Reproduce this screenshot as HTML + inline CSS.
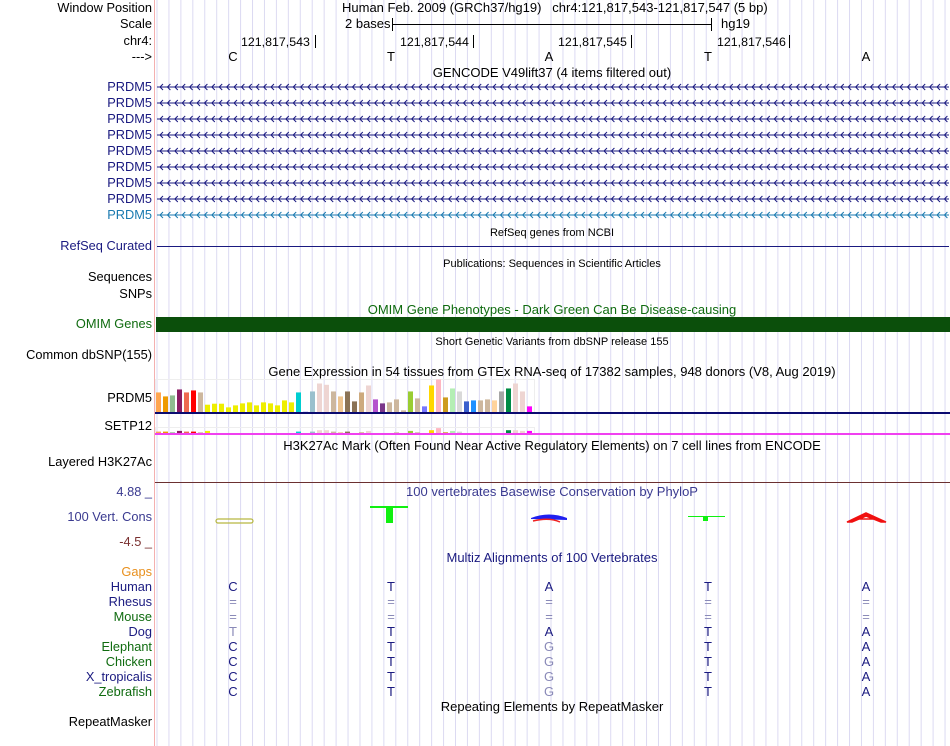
<!DOCTYPE html>
<html><head><meta charset="utf-8">
<style>
body{margin:0;width:950px;height:746px;background:#fff;overflow:hidden;font-family:"Liberation Sans",sans-serif;}
#wrap{position:relative;width:950px;height:746px;}
.t{position:absolute;font-size:13px;line-height:14px;white-space:nowrap;color:#000;}
.k{font-size:12.4px;}
.l{position:absolute;right:798px;font-size:12.8px;line-height:14px;white-space:nowrap;text-align:right;}
.c{position:absolute;font-size:13px;line-height:14px;white-space:nowrap;transform:translateX(-50%);}
.s{font-size:11px;}
.nv{color:#1a1a80}.gr{color:#0f6b0f}
</style></head><body>
<div id="wrap">
<svg id="bg" width="950" height="746" style="position:absolute;left:0;top:0"></svg>

<div class="l" style="top:1px">Window Position</div>
<div class="l" style="top:17px">Scale</div>
<div class="l" style="top:34px">chr4:</div>
<div class="l" style="top:50px">---&gt;</div>
<div class="t" style="left:342px;top:1px">Human Feb. 2009 (GRCh37/hg19)&nbsp;&nbsp;&nbsp;chr4:121,817,543-121,817,547 (5 bp)</div>
<div class="t" style="left:345px;top:17px">2 bases</div>
<div class="t" style="left:721px;top:17px">hg19</div>
<div class="t k" style="left:241px;top:35px">121,817,543</div>
<div class="t k" style="left:400px;top:35px">121,817,544</div>
<div class="t k" style="left:558px;top:35px">121,817,545</div>
<div class="t k" style="left:717px;top:35px">121,817,546</div>
<div class="c" style="left:233px;top:50px">C</div><div class="c" style="left:391px;top:50px">T</div><div class="c" style="left:549px;top:50px">A</div><div class="c" style="left:708px;top:50px">T</div><div class="c" style="left:866px;top:50px">A</div>
<div class="c" style="left:552px;top:66px">GENCODE V49lift37 (4 items filtered out)</div>
<div id="prdm"></div>
<div class="c s" style="left:552px;top:226px">RefSeq genes from NCBI</div>
<div class="l nv" style="top:239px">RefSeq Curated</div>
<div class="c s" style="left:552px;top:257px">Publications: Sequences in Scientific Articles</div>
<div class="l" style="top:270px">Sequences</div>
<div class="l" style="top:287px">SNPs</div>
<div class="c gr" style="left:552px;top:303px">OMIM Gene Phenotypes - Dark Green Can Be Disease-causing</div>
<div class="l gr" style="top:317px">OMIM Genes</div>
<div class="c s" style="left:552px;top:335px">Short Genetic Variants from dbSNP release 155</div>
<div class="l" style="top:348px">Common dbSNP(155)</div>
<div class="c" style="left:552px;top:365px">Gene Expression in 54 tissues from GTEx RNA-seq of 17382 samples, 948 donors (V8, Aug 2019)</div>
<div class="l" style="top:391px">PRDM5</div>
<div class="l" style="top:419px">SETP12</div>
<div class="c" style="left:552px;top:439px">H3K27Ac Mark (Often Found Near Active Regulatory Elements) on 7 cell lines from ENCODE</div>
<div class="l" style="top:455px">Layered H3K27Ac</div>
<div class="l nv" style="top:485px;color:#3a3a90">4.88 _</div>
<div class="c" style="left:552px;top:485px;color:#3a3a90">100 vertebrates Basewise Conservation by PhyloP</div>
<div class="l" style="top:510px;color:#3a3a90">100 Vert. Cons</div>
<div class="l" style="top:535px;color:#7a3030">-4.5 _</div>
<div class="c nv" style="left:552px;top:551px">Multiz Alignments of 100 Vertebrates</div>
<div class="l" style="top:565px;color:#e8901e">Gaps</div>
<div id="species"></div>
<div class="c" style="left:552px;top:700px">Repeating Elements by RepeatMasker</div>
<div class="l" style="top:715px">RepeatMasker</div>
</div>
<script>
const gtexPRDM5=[59,47,50,68,59,65,59,22,25,25,14,20,26,29,20,29,26,20,35,29,59,2,62,86,82,62,47,62,32,59,80,38,26,29,38,5,62,41,17,80,98,44,71,62,32,35,35,38,35,62,71,86,62,17];
const gtexSETP12=[2,2,1,3,2,2,1,3,0,0,0,0,0,0,0,0,0,0,0,0,2,0,2,4,4,2,1,2,0,1,3,0,0,0,1,0,3,1,0,4,7,1,3,2,0,0,0,0,0,0,4,4,3,3];
const tissueColors=["#FFA54F","#EE9A00","#8FBC8F","#8B1C62","#EE6A50","#FF0000","#CDB79E","#EEEE00","#EEEE00","#EEEE00","#EEEE00","#EEEE00","#EEEE00","#EEEE00","#EEEE00","#EEEE00","#EEEE00","#EEEE00","#EEEE00","#EEEE00","#00CED1","#CCCCFF","#9AC0CD","#EED5D2","#EED5D2","#CDB79E","#EEC591","#8B7355","#8B7355","#CDAA7D","#EED5D2","#B452CD","#7A378B","#CDB79E","#CDB79E","#CDB79E","#9ACD32","#CDB79E","#7777FF","#FFD700","#FFB6C1","#CD9B1D","#B4EEB4","#D9D9D9","#3A5FCD","#1E90FF","#CDB79E","#CDB79E","#FFD39B","#A6A6A6","#008B45","#EED5D2","#EED5D2","#FF00FF"];
const species=["Human","Rhesus","Mouse","Dog","Elephant","Chicken","X_tropicalis","Zebrafish"];
const speciesGreen=[false,false,true,false,true,true,false,true];
const alignRows=["CTATA","=====","=====","TTATA","CTGTA","CTGTA","CTGTA","CTGTA"];
const alignFaint=["00000","11111","11111","10000","00100","00100","00100","00100"];
const baseX=[233,391,549,708,866];
const NS="http://www.w3.org/2000/svg";
const svg=document.getElementById('bg');
function mk(tag,a){const e=document.createElementNS(NS,tag);for(const k in a)e.setAttribute(k,a[k]);svg.appendChild(e);return e;}
for(let x=157;x<950;x+=11.94){const g=mk('line',{x1:x,y1:0,x2:x,y2:746,stroke:'#dcdaf2','stroke-width':1});

}
mk('line',{x1:154.5,y1:0,x2:154.5,y2:746,stroke:'#f4b0b0','stroke-width':1});
mk('line',{x1:392,y1:24.5,x2:711,y2:24.5,stroke:'#000'});
mk('line',{x1:392.5,y1:18,x2:392.5,y2:31,stroke:'#000'});
mk('line',{x1:711.5,y1:18,x2:711.5,y2:31,stroke:'#000'});
[315,473,631,789].forEach(x=>mk('line',{x1:x+.5,y1:35,x2:x+.5,y2:48,stroke:'#000'}));
const prdm=document.getElementById('prdm');
for(let i=0;i<9;i++){const y=87+i*16;
const col=i==8?'#1a7ab0':'#1a1a80';
mk('line',{x1:157,y1:y,x2:949,y2:y,stroke:col,'stroke-width':1});
let d='';for(let x=160;x<949;x+=7.4){d+=`M${x+3},${y-3}L${x},${y}L${x+3},${y+3}`;}
const p=mk('path',{d:d,stroke:col,fill:'none','stroke-width':1});


const lb=document.createElement('div');lb.className='l';lb.style.top=(y-7)+'px';lb.style.color=col;lb.textContent='PRDM5';


prdm.appendChild(lb);}
mk('line',{x1:157,y1:246.5,x2:949,y2:246.5,stroke:'#1a1a80'});
const om=mk('rect',{x:156,y:317,width:794,height:15,fill:'#0b4f0b'});


mk('rect',{x:155.5,y:379.5,width:379,height:33,fill:'none',stroke:'#eee'});
mk('rect',{x:155.5,y:427.5,width:379,height:6,fill:'none',stroke:'#eee'});
const sc=32.5/98;
gtexPRDM5.forEach((v,i)=>{const h=v*sc;const r=mk('rect',{x:156+i*7,y:412-h,width:5,height:h,fill:tissueColors[i]});

});
gtexSETP12.forEach((v,i)=>{const h=v*0.7;const r=mk('rect',{x:156+i*7,y:433-h,width:5,height:h,fill:tissueColors[i]});

});
mk('rect',{x:155,y:412,width:795,height:2,fill:'#0b0b70'});
mk('rect',{x:155,y:433,width:795,height:2,fill:'#f040f0'});
mk('line',{x1:155,y1:482.5,x2:950,y2:482.5,stroke:'#6b3030'});
mk('rect',{x:216,y:519,width:37,height:4,rx:2,fill:'none',stroke:'#b8b840','stroke-width':1.2});
mk('rect',{x:370,y:506,width:38,height:2,fill:'#10f010'});mk('rect',{x:386,y:506,width:7,height:17,fill:'#10f010'});
mk('path',{d:'M531,518 Q549,511 567,518 L567,520 L531,519Z',fill:'#2020f0'});
mk('path',{d:'M533,521 Q549,517 560,522',stroke:'#f02020',fill:'none','stroke-width':1.5});
mk('line',{x1:688,y1:516.5,x2:725,y2:516.5,stroke:'#10f010'});mk('rect',{x:703,y:516,width:5,height:5,fill:'#10f010'});
mk('path',{d:'M847,522 L866,513 L886,522 L881,522 L866,516 L852,522Z M856,519 L877,519',fill:'#f01010',stroke:'#f01010','stroke-width':1.5});
const sp=document.getElementById('species');
species.forEach((n,i)=>{const y=580+i*15;
const lb=document.createElement('div');lb.className='l';lb.style.top=y+'px';lb.style.color=speciesGreen[i]?'#0f6b0f':'#1a1a80';lb.textContent=n;


sp.appendChild(lb);
for(let j=0;j<5;j++){const b=document.createElement('div');b.className='c';b.style.left=baseX[j]+'px';b.style.top=y+'px';
b.style.color=alignFaint[i][j]=='1'?'#8a8ab8':'#1a1a80';b.textContent=alignRows[i][j];


sp.appendChild(b);}});
</script>
</body></html>
